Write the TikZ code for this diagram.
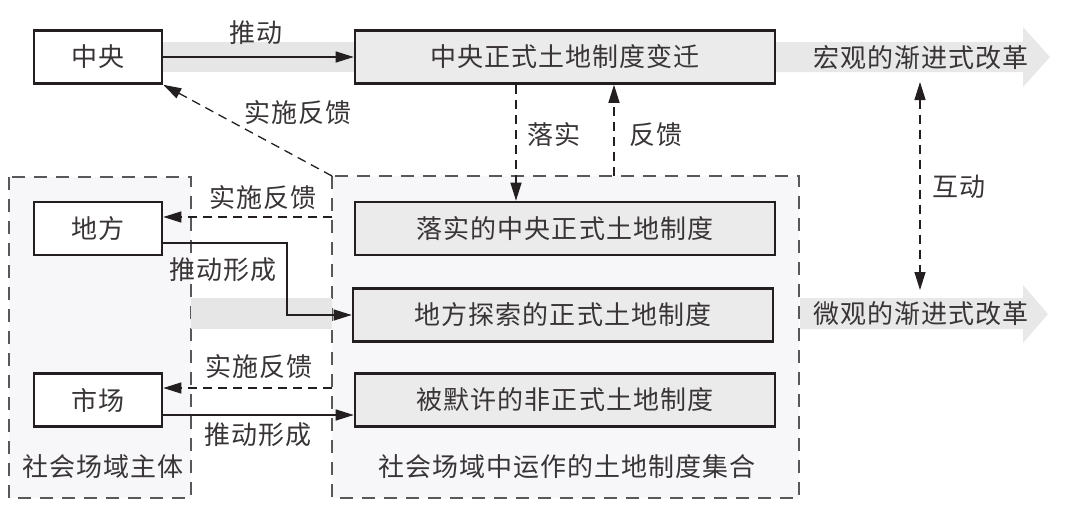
\documentclass[tikz,border=0pt]{standalone}
\usepackage{fontspec}
\setmainfont{Noto Sans CJK SC}[LetterSpace=4]
\usetikzlibrary{arrows.meta}
\definecolor{ink}{HTML}{231F20}
\definecolor{boxfill}{HTML}{EBEBEB}
\definecolor{regfill}{HTML}{F7F7F9}
\definecolor{bandc}{HTML}{E6E6E6}
\definecolor{bigc}{HTML}{E8E8E8}
\begin{document}
\begin{tikzpicture}[x=1pt,y=-1pt,
  >={Triangle[length=18pt,width=11pt]},
  every node/.style={font=\fontsize{26}{30}\selectfont, text=ink!90},
  actor/.style={draw=ink, line width=2.6pt, fill=white, minimum width=128pt, minimum height=53pt, inner sep=0pt},
  inst/.style={actor, fill=boxfill, minimum width=420pt},
  region/.style={draw=ink!75, line width=1.4pt, dash pattern=on 13pt off 9pt, fill=regfill},
  solidarrow/.style={draw=ink, line width=1.3pt, ->},
  dasharrow/.style={solidarrow, dash pattern=on 9pt off 6pt},
  lbl/.style={inner sep=0pt}
]
\useasboundingbox (0,0) rectangle (1080,522);
% regions
\draw[region] (9,177) rectangle (191,498);
\draw[region] (332,176) rectangle (799,498);
% bands
\fill[bandc] (162,42) rectangle (355,72);
\fill[bandc] (191,298) rectangle (332,329);
% big arrows
\fill[bigc] (775,42) -- (1023,42) -- (1023,27) -- (1050,57) -- (1023,87) -- (1023,72) -- (775,72) -- cycle;
\fill[bigc] (800,298) -- (1023,298) -- (1023,285) -- (1048,314) -- (1023,343) -- (1023,329) -- (800,329) -- cycle;
\node (hg) at (921,58) {宏观的渐进式改革};
\node (wg) at (921,314) {微观的渐进式改革};
% boxes
\node[actor] (zy) at (98,57) {中央};
\node[actor] (df) at (98,228.5) {地方};
\node[actor] (sc) at (98,400) {市场};
\node[inst] (zbq) at (565,57) {中央正式土地制度变迁};
\node[inst] (lsz) at (565,228.5) {落实的中央正式土地制度};
\node[inst] (dft) at (563,315) {地方探索的正式土地制度};
\node[inst] (bmx) at (565,400) {被默许的非正式土地制度};
% connectors
\draw[solidarrow] (zy) -- (zbq);
\coordinate (rrnw) at (332,176);
\draw[dasharrow] (rrnw) -- (zy.south east);
\coordinate (lsx) at (516,0);
\draw[dasharrow] (zbq.south -| lsx) -- (lsz.north -| lsx);
\coordinate (fkb) at (614,176);
\draw[dasharrow] (fkb) -- (fkb |- zbq.south);
\coordinate (hdt) at (920,82);
\coordinate (hdb) at (920,290);
\draw[dasharrow, <->] (hdt) -- (hdb);
\coordinate (f1) at (332,217);
\draw[dasharrow] (f1) -- (f1 -| df.east);
\coordinate (t1) at (287,243);
\draw[solidarrow] (t1 -| df.east) -- (t1) |- (dft.west);
\coordinate (f2) at (332,388);
\draw[dasharrow] (f2) -- (f2 -| sc.east);
\coordinate (t2) at (0,415);
\draw[solidarrow] (t2 -| sc.east) -- (t2 -| bmx.west);
% labels
\node[lbl] (l1) at (256,33) {推动};
\node[lbl] (l2) at (298,113) {实施反馈};
\node[lbl] (l3) at (554,135) {落实};
\node[lbl] (l4) at (656,135) {反馈};
\node[lbl] (l5) at (959,187) {互动};
\node[lbl] (l6) at (263,198) {实施反馈};
\node[lbl] (l7) at (223,270) {推动形成};
\node[lbl] (l8) at (259,367) {实施反馈};
\node[lbl] (l9) at (258,435) {推动形成};
\node[lbl] (l10) at (103,467) {社会场域主体};
\node[lbl] (l11) at (567,467) {社会场域中运作的土地制度集合};
\end{tikzpicture}
\end{document}
